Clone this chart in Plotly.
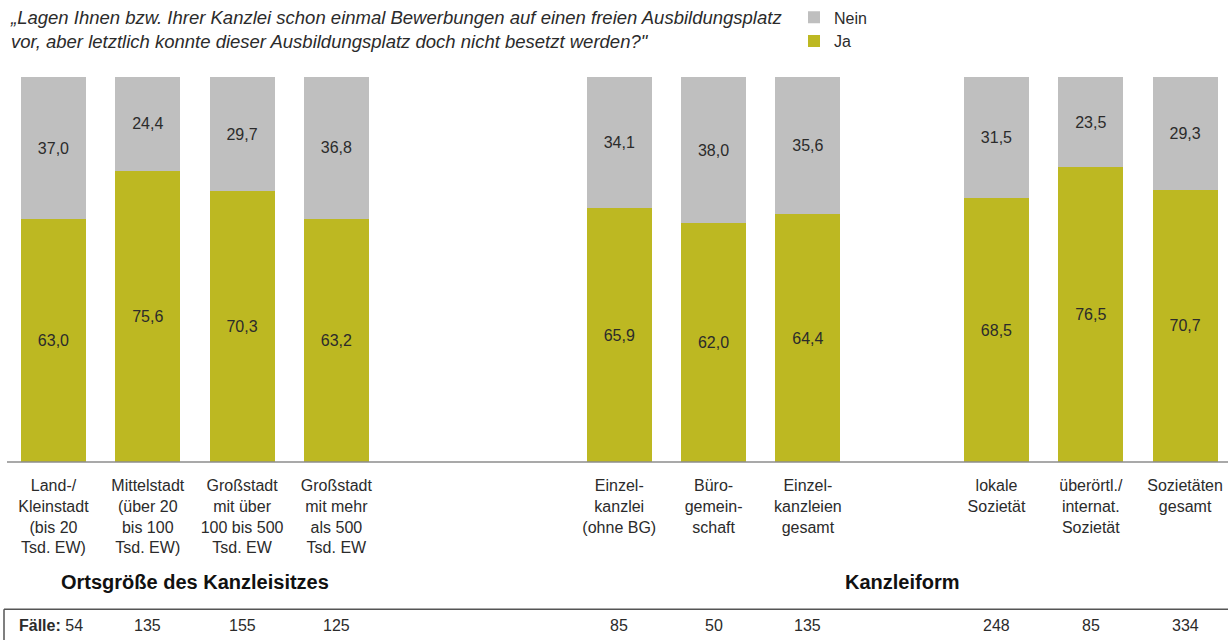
import plotly.graph_objects as go

# Daten
categories = [
    "Land-/<br>Kleinstadt<br>(bis 20<br>Tsd. EW)",
    "Mittelstadt<br>(über 20<br>bis 100<br>Tsd. EW)",
    "Großstadt<br>mit über<br>100 bis 500<br>Tsd. EW",
    "Großstadt<br>mit mehr<br>als 500<br>Tsd. EW",
    "Einzel-<br>kanzlei<br>(ohne BG)",
    "Büro-<br>gemein-<br>schaft",
    "Einzel-<br>kanzleien<br>gesamt",
    "lokale<br>Sozietät",
    "überörtl./<br>internat.<br>Sozietät",
    "Sozietäten<br>gesamt",
]
ja = [63.0, 75.6, 70.3, 63.2, 65.9, 62.0, 64.4, 68.5, 76.5, 70.7]
nein = [37.0, 24.4, 29.7, 36.8, 34.1, 38.0, 35.6, 31.5, 23.5, 29.3]
faelle = [54, 135, 155, 125, 85, 50, 135, 248, 85, 334]
group_names = ["Ortsgröße des Kanzleisitzes", "Kanzleiform"]
group_members = [[0, 1, 2, 3], [4, 5, 6, 7, 8, 9]]

title_text = ("<i>„Lagen Ihnen bzw. Ihrer Kanzlei schon einmal Bewerbungen auf einen freien Ausbildungsplatz<br>"
              "vor, aber letztlich konnte dieser Ausbildungsplatz doch nicht besetzt werden?\"</i>")

# Positionen (Lücken zwischen den Gruppen)
slots = [0, 1, 2, 3, 6, 7, 8, 10, 11, 12]

W, H = 1228, 640
M_T, M_B = 75, 178
FONT = "Liberation Sans, Arial, sans-serif"
TXT = "#2b2b2b"
OLIVE = "#bdb822"
GREY = "#bfbfbf"


def fmt(v):
    return f"{v:.1f}".replace(".", ",")


def py(pix):
    # Pixel (von oben) -> Paper-y
    return (H - M_B - pix) / (H - M_T - M_B)


fig = go.Figure()

fig.add_trace(go.Bar(
    x=slots, y=ja, name="Ja",
    marker=dict(color=OLIVE, line=dict(width=0)),
    width=0.69,
    text=[fmt(v) for v in ja],
    textposition="inside", insidetextanchor="middle", textangle=0,
    textfont=dict(size=16, color=TXT, family=FONT),
    hoverinfo="skip",
))
fig.add_trace(go.Bar(
    x=slots, y=nein, name="Nein",
    marker=dict(color=GREY, line=dict(width=0)),
    width=0.69,
    text=[fmt(v) for v in nein],
    textposition="inside", insidetextanchor="middle", textangle=0,
    textfont=dict(size=16, color=TXT, family=FONT),
    hoverinfo="skip",
))

annotations = [
    dict(x=8 / W, xref="paper", xanchor="left", y=py(3), yref="paper", yanchor="top",
         text=title_text, showarrow=False, align="left",
         font=dict(size=18.5, color=TXT, family=FONT)),
]
# Fallzahlen
for i, (s, n) in enumerate(zip(slots, faelle)):
    if i == 0:
        annotations.append(dict(x=17 / W, xref="paper", xanchor="left",
                                y=py(626), yref="paper", yanchor="middle",
                                text=f"<b>Fälle:</b> {n}", showarrow=False,
                                font=dict(size=16, color=TXT, family=FONT)))
    else:
        annotations.append(dict(x=s, xref="x", xanchor="center",
                                y=py(626), yref="paper", yanchor="middle",
                                text=str(n), showarrow=False,
                                font=dict(size=16, color=TXT, family=FONT)))

# Gruppentitel
for name, members in zip(group_names, group_members):
    xs = [slots[m] for m in members]
    annotations.append(dict(x=(min(xs) + max(xs)) / 2, xref="x", xanchor="center",
                            y=py(583), yref="paper", yanchor="middle",
                            text=f"<b>{name}</b>", showarrow=False,
                            font=dict(size=20, color="#111111", family=FONT)))

shapes = [
    # x-Achse
    dict(type="line", xref="paper", yref="paper", x0=7 / W, x1=1, y0=0, y1=0,
         line=dict(color="#8c8c8c", width=1.5)),
    # Rahmen Fallzahlen
    dict(type="line", xref="paper", yref="paper", x0=4 / W, x1=1, y0=py(610), y1=py(610),
         line=dict(color="#555555", width=1.5)),
    dict(type="line", xref="paper", yref="paper", x0=4 / W, x1=4 / W, y0=py(610), y1=py(642),
         line=dict(color="#555555", width=1.5)),
]

fig.update_layout(
    width=W, height=H,
    margin=dict(l=0, r=0, t=M_T, b=M_B),
    paper_bgcolor="white", plot_bgcolor="white",
    barmode="stack",
    font=dict(family=FONT, color=TXT),
    xaxis=dict(range=[-0.567, 12.455], tickvals=slots, ticktext=categories,
               tickfont=dict(size=16, color=TXT, family=FONT), ticklabelstandoff=12,
               showgrid=False, zeroline=False, showline=False, ticks=""),
    yaxis=dict(range=[0, 100], visible=False),
    legend=dict(x=794 / W, xanchor="left", y=py(-2), yanchor="top",
                traceorder="reversed", font=dict(size=16, color=TXT, family=FONT),
                bgcolor="rgba(0,0,0,0)", itemclick=False, tracegroupgap=0),
    annotations=annotations,
    shapes=shapes,
)

fig.write_html("out.html", config={"displayModeBar": False},
               post_script="document.body.style.margin='0';")
